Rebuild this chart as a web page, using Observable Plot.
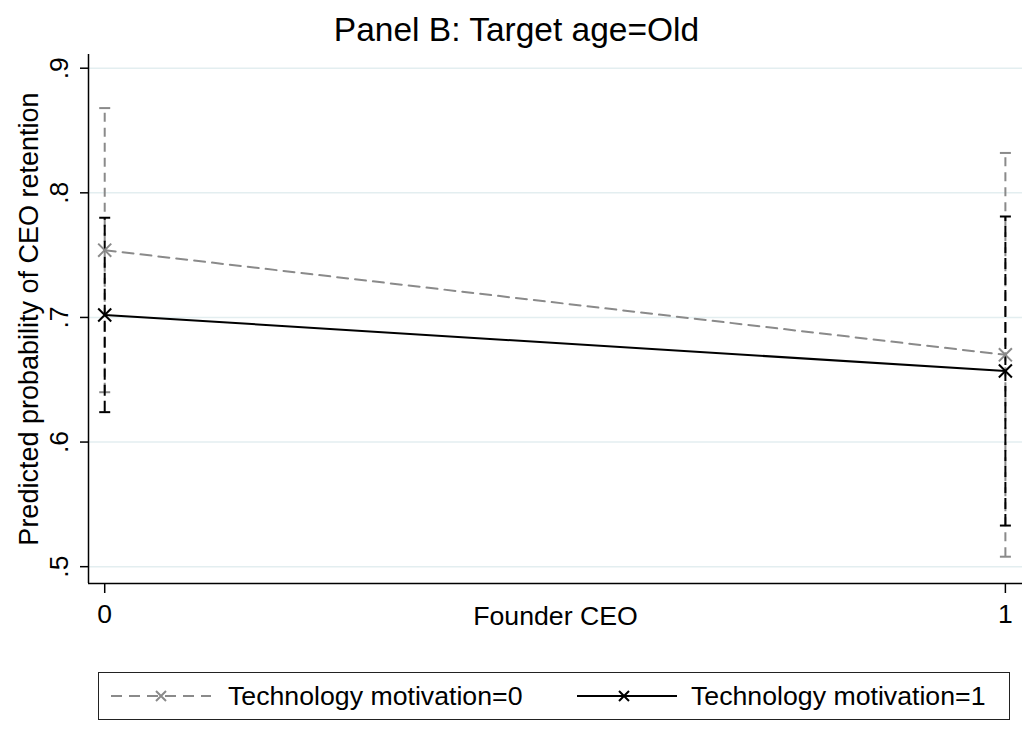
<!DOCTYPE html>
<html>
<head>
<meta charset="utf-8">
<script src="https://cdn.jsdelivr.net/npm/d3@7"></script>
<script src="https://cdn.jsdelivr.net/npm/@observablehq/plot@0.6"></script>
<style>
  html, body { margin: 0; padding: 0; background: #fff; }
  #wrap { position: relative; width: 1033px; height: 731px; font-family: "Liberation Sans", Arial, sans-serif; color: #000; }
  #title { position: absolute; left: 0; top: 0; width: 1033px; height: 60px; line-height: 60px; text-align: center; font-size: 33.5px; }
  #chart { position: absolute; left: 0; top: 50px; }
  #legend { position: absolute; left: 98px; top: 672px; width: 910px; height: 46px; border: 1.5px solid #222; }
  .lk { position: absolute; top: 0; }
  .lt { position: absolute; top: 0; height: 46px; line-height: 46px; font-size: 26.7px; white-space: nowrap; }
</style>
</head>
<body>
<div id="wrap">
  <div id="title">Panel B: Target age=Old</div>
  <div id="chart"></div>
  <div id="legend"></div>
</div>
<script>
// ---- Data ----
const founderCEO = [0, 1];
const tech0Mean = [0.754, 0.670];
const tech0Lo   = [0.640, 0.508];
const tech0Hi   = [0.868, 0.832];
const tech1Mean = [0.702, 0.657];
const tech1Lo   = [0.624, 0.533];
const tech1Hi   = [0.780, 0.781];
const yTicks = [0.5, 0.6, 0.7, 0.8, 0.9];
const xTicks = [0, 1];
const seriesNames = ["Technology motivation=0", "Technology motivation=1"];
const titleText = "Panel B: Target age=Old";
const xLabel = "Founder CEO";
const yLabel = "Predicted probability of CEO retention";

const gray = "#8a8a8a";
const black = "#000000";

const rows0 = founderCEO.map((x, i) => ({x, m: tech0Mean[i], lo: tech0Lo[i], hi: tech0Hi[i]}));
const rows1 = founderCEO.map((x, i) => ({x, m: tech1Mean[i], lo: tech1Lo[i], hi: tech1Hi[i]}));

const capSymbol = { draw(ctx) { ctx.moveTo(-5.5, 0); ctx.lineTo(5.5, 0); } };
const yFmt = d => d3.format(".1f")(d).replace(/^0/, "");

const xDom = [-0.018, 1.019];
const yDom = [0.4865, 0.911];

document.getElementById("title").textContent = titleText;

const chart = Plot.plot({
  width: 1033,
  height: 610,
  marginLeft: 88,
  marginRight: 11,
  marginTop: 4,
  marginBottom: 77,
  style: { fontFamily: "'Liberation Sans', Arial, sans-serif", background: "transparent", overflow: "visible" },
  x: { domain: xDom },
  y: { domain: yDom },
  marks: [
    Plot.gridY(yTicks, { stroke: "#e3eef0", strokeOpacity: 1, strokeWidth: 1.5 }),
    Plot.axisY(yTicks, { tickSize: 8, tickFormat: () => "", strokeWidth: 1.5, label: null }),
    Plot.text(yTicks, { y: d => d, text: yFmt, frameAnchor: "left", dx: -29, rotate: -90, textAnchor: "middle", lineAnchor: "middle", fontSize: 26.5 }),
    Plot.text([yLabel], { text: d => d, frameAnchor: "left", dx: -59, rotate: -90, textAnchor: "middle", lineAnchor: "middle", fontSize: 27 }),
    Plot.axisX(xTicks, { tickSize: 10, tickPadding: 11, fontSize: 26.5, tickFormat: d3.format("d"), strokeWidth: 1.5, label: null }),
    Plot.text([xLabel], { text: d => d, frameAnchor: "bottom", dy: 33, lineAnchor: "middle", fontSize: 26.7 }),
    Plot.ruleX([xDom[0]], { stroke: black, strokeWidth: 1.5 }),
    Plot.ruleY([yDom[0]], { stroke: black, strokeWidth: 1.5 }),
    // CI tech0
    Plot.ruleX(rows0, { x: "x", y1: "lo", y2: "hi", stroke: gray, strokeWidth: 2, strokeDasharray: "9,6" }),
    Plot.dot(rows0, { x: "x", y: "lo", symbol: capSymbol, stroke: gray, strokeWidth: 2, r: 5 }),
    Plot.dot(rows0, { x: "x", y: "hi", symbol: capSymbol, stroke: gray, strokeWidth: 2, r: 5 }),
    // CI tech1
    Plot.ruleX(rows1, { x: "x", y1: "lo", y2: "hi", stroke: black, strokeWidth: 2, strokeDasharray: "11,5" }),
    Plot.dot(rows1, { x: "x", y: "lo", symbol: capSymbol, stroke: black, strokeWidth: 2, r: 5 }),
    Plot.dot(rows1, { x: "x", y: "hi", symbol: capSymbol, stroke: black, strokeWidth: 2, r: 5 }),
    // lines
    Plot.line(rows0, { x: "x", y: "m", stroke: gray, strokeWidth: 2, strokeDasharray: "11,7" }),
    Plot.line(rows1, { x: "x", y: "m", stroke: black, strokeWidth: 2 }),
    Plot.dot(rows0, { x: "x", y: "m", symbol: "times", stroke: gray, strokeWidth: 2, r: 6 }),
    Plot.dot(rows1, { x: "x", y: "m", symbol: "times", stroke: black, strokeWidth: 2, r: 6 })
  ]
});
document.getElementById("chart").appendChild(chart);

// ---- Legend ----
const legend = d3.select("#legend");
function key(left, width, markerX, color, dash) {
  const svg = legend.append("svg").attr("class", "lk").attr("width", width).attr("height", 46)
    .style("left", left + "px");
  svg.append("line").attr("x1", 0).attr("x2", width).attr("y1", 23).attr("y2", 23)
    .attr("stroke", color).attr("stroke-width", 2).attr("stroke-dasharray", dash);
  const s = 5;
  svg.append("path").attr("d", `M${markerX - s},${23 - s}L${markerX + s},${23 + s}M${markerX - s},${23 + s}L${markerX + s},${23 - s}`)
    .attr("stroke", color).attr("stroke-width", 2).attr("fill", "none");
}
key(12, 100, 50, gray, "11,7");
legend.append("div").attr("class", "lt").style("left", "129px").text(seriesNames[0]);
key(478, 100, 47, black, null);
legend.append("div").attr("class", "lt").style("left", "592px").text(seriesNames[1]);
</script>
</body>
</html>
